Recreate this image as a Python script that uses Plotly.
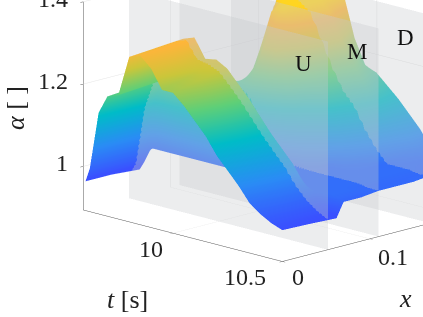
import numpy as np
import plotly.graph_objects as go

t_vals = [9.6,9.62,9.66,9.7,9.75,9.8,9.85,9.9,9.95,10.0,10.05,10.1,10.15,10.2,10.25,10.3,10.35,10.4,10.45,10.5]
x_vals = [0,0.03,0.06,0.062,0.07,0.09,0.11,0.13,0.15,0.17,0.19,0.205,0.22]
a_000 = [.965,1.0,1.14,1.185,1.195,1.295,1.305,1.28,1.235,1.235,1.21,1.18,1.15,1.11,1.08,1.05,1.015,.995,.98,.97]
a_030 = [.965,.99,1.13,1.19,1.2,1.30,1.31,1.285,1.25,1.25,1.225,1.195,1.16,1.125,1.09,1.06,1.025,1.0,.98,.968]
a_060 = [.96,.98,1.12,1.19,1.205,1.305,1.315,1.27,1.275,1.26,1.23,1.2,1.165,1.13,1.1,1.07,1.03,1.0,.98,.965]
a_062 = [.96,.98,1.12,1.19,1.205,1.305,1.315,1.27,1.275,1.26,1.23,1.2,1.165,1.13,1.1,1.07,1.03,1.0,.98,.965]
a_070 = [1.01,1.01,1.01,1.01,1.01,1.01,1.01,1.01,1.01,1.01,1.01,1.01,1.01,1.01,1.01,1.01,1.01,1.01,1.01,1.0]
a_090 = [1.01,1.03,1.08,1.13,1.13,1.1,1.07,1.04,1.02,1.01,1.01,1.01,1.01,1.01,1.01,1.01,1.01,1.01,1.01,1.0]
a_110 = [1.01,1.03,1.10,1.18,1.2,1.19,1.17,1.15,1.1,1.06,1.03,1.01,1.01,1.01,1.01,1.01,1.01,1.01,1.005,1.005]
a_130 = [1.01,1.02,1.05,1.1,1.125,1.135,1.2,1.27,1.26,1.2,1.13,1.08,1.04,1.01,1.01,1.01,1.01,1.01,1.005,1.005]
a_150 = [1.01,1.02,1.04,1.08,1.11,1.22,1.33,1.345,1.31,1.25,1.19,1.15,1.1,1.05,1.02,1.01,1.01,1.01,1.005,1.005]
a_170 = [1.03,1.04,1.08,1.15,1.26,1.35,1.36,1.35,1.33,1.27,1.21,1.16,1.13,1.08,1.04,1.01,1.01,1.01,1.005,1.01]
a_190 = [1.08,1.13,1.22,1.30,1.34,1.36,1.36,1.35,1.33,1.27,1.22,1.18,1.14,1.09,1.05,1.02,1.01,1.005,1.005,1.01]
a_205 = [1.2,1.24,1.3,1.33,1.34,1.35,1.36,1.35,1.29,1.22,1.19,1.16,1.13,1.09,1.06,1.03,1.01,1.005,1.005,1.01]
a_220 = [1.3,1.31,1.32,1.33,1.34,1.34,1.34,1.34,1.24,1.18,1.17,1.145,1.12,1.09,1.06,1.02,1.01,1.005,1.005,1.01]
columns = [a_000,a_030,a_060,a_062,a_070,a_090,a_110,a_130,a_150,a_170,a_190,a_205,a_220]

plane_x = [0.052,0.11,0.169]
plane_names = ["U","M","D"]
x_ticks = [0,0.1,0.2]
x_labels = ["0","0.1","0.2"]
t_ticks = [10,10.5]
t_labels = ["10","10.5"]
z_ticks = [1,1.2,1.4]
z_labels = ["1","1.2","1.4"]
x_range = [0,0.233]
t_range = [9.59,10.5]
z_range = [0.894,1.4]

FONT = "Liberation Serif"
colorscale = [[0,"#3a50ff"],[0.213,"#2a8cf5"],[0.427,"#00bcc8"],[0.613,"#5fcf78"],[0.773,"#cbc63a"],[0.907,"#fdb53a"],[1,"#ffd520"]]
flat = dict(ambient=1,diffuse=0,specular=0,roughness=1,fresnel=0)

fig = go.Figure()
fig.add_trace(go.Surface(x=x_vals,y=t_vals,z=np.array(columns).T,colorscale=colorscale,cmin=0.97,cmax=1.345,
    showscale=False,lighting=flat,hoverinfo="skip"))
for xp in plane_x:
    fig.add_trace(go.Surface(x=[[xp,xp],[xp,xp]],y=[[t_range[0],t_range[0]],[t_range[1],t_range[1]]],
        z=[[z_range[0],z_range[1]],[z_range[0],z_range[1]]],surfacecolor=[[0,0],[0,0]],
        colorscale=[[0,"#c8cace"],[1,"#c8cace"]],showscale=False,opacity=0.35,lighting=flat,hoverinfo="skip"))

def axis(vals,labels,rng):
    return dict(range=rng,tickvals=vals,ticktext=labels,title=dict(text=""),showbackground=False,showgrid=True,
        gridcolor="#e4e4e4",gridwidth=1,zeroline=False,showline=True,linecolor="#555555",linewidth=1,
        ticks="outside",ticklen=4,tickcolor="#555555",showticklabels=False,showspikes=False)

d = 6.0
az = np.radians(45); el = np.radians(15)
dirv = np.array([-np.cos(el)*np.sin(az),-np.cos(el)*np.cos(az),np.sin(el)])
center = np.array([-0.3884,0.2654,-0.3246])
eye = center + d*dirv

anns3d = []
tf = dict(family=FONT,size=24,color="#222222")
for xp,name,tv,zv in zip(plane_x,plane_names,[10.39,10.40,10.385],[1.34,1.34,1.34]):
    anns3d.append(dict(x=xp,y=tv,z=zv,text=name,showarrow=False,yshift=-4,font=dict(family=FONT,size=23,color="#111111")))
for v,lab,xs,ys in zip(t_ticks,t_labels,[-22,-37],[-16,-16]):
    anns3d.append(dict(x=0,y=v,z=z_range[0],text=lab,showarrow=False,xshift=xs,yshift=ys,font=tf))
for v,lab,xs,ys in zip(x_ticks,x_labels,[16,23,23],[-16,-18,-18]):
    anns3d.append(dict(x=v,y=t_range[1],z=z_range[0],text=lab,showarrow=False,xshift=xs,yshift=ys,font=tf))
for v,lab in zip(z_ticks,z_labels):
    anns3d.append(dict(x=0,y=t_range[0],z=v,text=lab,showarrow=False,xanchor="right",xshift=-13,yshift=3,font=tf))

fig.update_layout(width=423,height=317,margin=dict(l=0,r=0,t=0,b=0),paper_bgcolor="white",showlegend=False,
    scene=dict(domain=dict(x=[0,1],y=[0,1]),
        xaxis=axis(x_ticks,x_labels,x_range),
        yaxis=axis(t_ticks,t_labels,[t_range[1],t_range[0]]),
        zaxis=axis(z_ticks,z_labels,z_range),
        aspectmode="manual",aspectratio=dict(x=1.82,y=1.776,z=1.36),
        camera=dict(projection=dict(type="orthographic"),up=dict(x=0,y=0,z=1),
            eye=dict(x=eye[0],y=eye[1],z=eye[2]),center=dict(x=center[0],y=center[1],z=center[2])),
        annotations=anns3d),
    annotations=[
        dict(xref="paper",yref="paper",x=15/423,y=1-108/317,xanchor="center",yanchor="middle",text="<i>α</i> [ ]",textangle=-90,showarrow=False,font=dict(family=FONT,size=26,color="#222222")),
        dict(xref="paper",yref="paper",x=127/423,y=1-299/317,xanchor="center",yanchor="middle",text="<i>t</i> [s]",showarrow=False,font=dict(family=FONT,size=26,color="#222222")),
        dict(xref="paper",yref="paper",x=405/423,y=1-298/317,xanchor="center",yanchor="middle",text="<i>x</i>",showarrow=False,font=dict(family=FONT,size=26,color="#222222")),
    ])
fig.write_html("out.html", config={"displayModeBar":False}, post_script="document.body.style.margin='0';document.documentElement.style.overflow='hidden';")
